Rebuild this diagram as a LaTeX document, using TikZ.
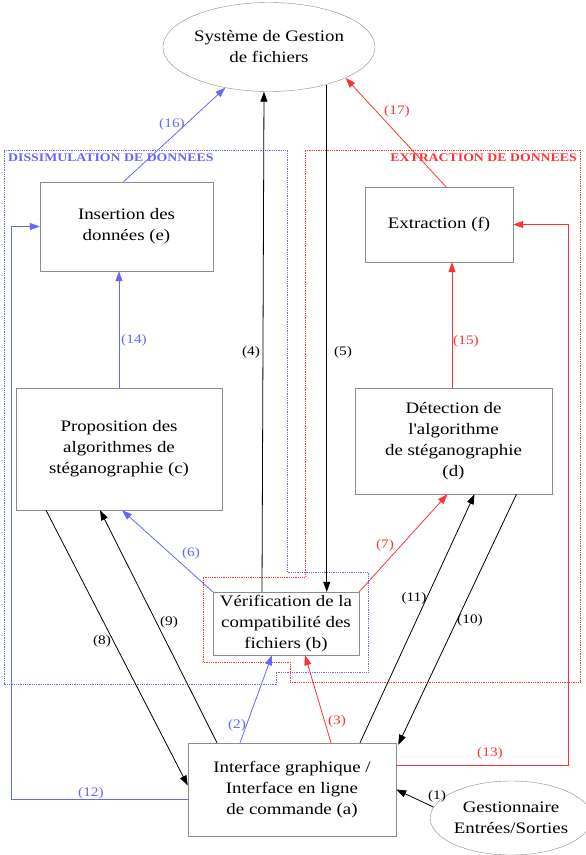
\documentclass[tikz,border=0pt]{standalone}
\usepackage{fontspec}
\setmainfont{Liberation Serif}[FakeStretch=1.18, Ligatures=TeXOff]
\usepackage{tikz}
\usetikzlibrary{arrows.meta, shapes.geometric}
\definecolor{bleucadre}{RGB}{102,102,255}
\definecolor{rougecadre}{RGB}{255,51,51}
\definecolor{bordgris}{RGB}{140,140,140}

\tikzset{
  boite/.style={draw=bordgris, fill=white, inner sep=0pt, align=center, font=\fontsize{16}{21}\selectfont},
  bulle/.style={ellipse, draw=bordgris, fill=white, inner sep=0pt, align=center, font=\fontsize{16}{21}\selectfont},
  fl/.style={-{Triangle[length=10pt,width=7pt]}, line width=0.8pt},
  num/.style={font=\fontsize{13}{16}\selectfont, inner sep=0pt},
  cadre/.style={densely dotted, line width=0.8pt}
}

\begin{document}
\begin{tikzpicture}[x=1pt, y=-1pt]
    \useasboundingbox (0,0) rectangle (586,855);

    \draw[cadre, draw=bleucadre] (4,150) -- (287,150) -- (287,572) -- (368,572) -- (368,672)
      -- (276,672) -- (276,684) -- (4,684) -- cycle;
    \draw[cadre, draw=rougecadre] (305,150) -- (580,150) -- (580,682) -- (290,682) -- (290,662)
      -- (203,662) -- (203,577) -- (305,577) -- cycle;
    \node[anchor=west, inner sep=0pt, text=bleucadre, font=\fontsize{11.7}{15}\selectfont\bfseries] (tdis) at (8,158) {DISSIMULATION DE DONNEES};
    \node[anchor=east, inner sep=0pt, text=rougecadre, font=\fontsize{11.7}{15}\selectfont\bfseries] (text) at (577,158) {EXTRACTION DE DONNEES};

    \node[bulle, minimum width=208pt, minimum height=89pt] (sgf) at (269,47) {Système de Gestion\\de fichiers};
    \node[bulle, minimum width=140pt, minimum height=74pt] (io) at (511,818) {Gestionnaire\\Entrées/Sorties};

    \node[boite, minimum width=173pt, minimum height=89pt] (e) at (126.5,226.5) {Insertion des\\données (e)};
    \node[boite, minimum width=148pt, minimum height=75pt] (f) at (439,224.5) {Extraction (f)};
    \node[boite, minimum width=206pt, minimum height=122pt] (c) at (119,449) {Proposition des\\algorithmes de\\stéganographie (c)};
    \node[boite, minimum width=197pt, minimum height=106pt] (d) at (453.5,441) {Détection de\\l'algorithme\\de stéganographie\\(d)};
    \node[boite, minimum width=146pt, minimum height=63pt] (b) at (286,623.5) {Vérification de la\\compatibilité des\\fichiers (b)};
    \node[boite, minimum width=208pt, minimum height=93pt] (a) at (292,789.5) {Interface graphique /\\Interface en ligne\\de commande (a)};

    \draw[fl] (io.172) -- (a.east);
    \draw[fl, bleucadre] ([xshift=-52pt]a.north) -- ([xshift=-14pt]b.south);
    \draw[fl, rougecadre] ([xshift=39pt]a.north) -- ([xshift=19pt]b.south);
    \draw[fl] ([xshift=-24pt]b.north) -- ([xshift=-5pt]sgf.south);
    \draw[fl] (sgf.-33) -- (sgf.-33 |- b.north);
    \draw[fl, bleucadre] (b.north west) -- ([xshift=3pt]c.south);
    \draw[fl, rougecadre] (b.north east) -- ([xshift=-6pt]d.south);
    \draw[fl] ([xshift=-73pt]c.south) -- ([yshift=4pt]a.west);
    \draw[fl] ([xshift=-75pt]a.north) -- ([xshift=-19pt]c.south);
    \draw[fl] ([xshift=63pt]d.south) -- ([xshift=2pt,yshift=-2pt]a.north east);
    \draw[fl] ([xshift=68pt]a.north) -- ([xshift=21pt]d.south);
    \draw[fl, bleucadre] ([yshift=-10pt]a.west) -| ([xshift=-28pt]e.west) -- (e.west);
    \draw[fl, rougecadre] ([yshift=24pt]a.east) -| ([xshift=55pt]f.east) -- (f.east);
    \draw[fl, bleucadre] (c.north) -- (c.north |- e.south);
    \draw[fl, rougecadre] ([xshift=-1.5pt]d.north) -- ([xshift=-1.5pt]d.north |- f.south);
    \draw[fl, bleucadre] ([xshift=-3pt]e.north) -- (sgf.-137);
    \draw[fl, rougecadre] ([xshift=7pt]f.north) -- (sgf.-22);

    \node[num] (l1) at (437,796) {(1)};
    \node[num, text=bleucadre] (l2) at (237,725) {(2)};
    \node[num, text=rougecadre] (l3) at (337,721) {(3)};
    \node[num] (l4) at (251,352) {(4)};
    \node[num] (l5) at (343,352) {(5)};
    \node[num, text=bleucadre] (l6) at (191,553) {(6)};
    \node[num, text=rougecadre] (l7) at (385,545) {(7)};
    \node[num] (l8) at (102,641) {(8)};
    \node[num] (l9) at (169,622) {(9)};
    \node[num] (l10) at (470,620) {(10)};
    \node[num] (l11) at (414,598) {(11)};
    \node[num, text=bleucadre] (l12) at (91,793) {(12)};
    \node[num, text=rougecadre] (l13) at (490,753) {(13)};
    \node[num, text=bleucadre] (l14) at (134,340) {(14)};
    \node[num, text=rougecadre] (l15) at (466,341) {(15)};
    \node[num, text=bleucadre] (l16) at (172,124) {(16)};
    \node[num, text=rougecadre] (l17) at (397,111) {(17)};
\end{tikzpicture}
\end{document}
